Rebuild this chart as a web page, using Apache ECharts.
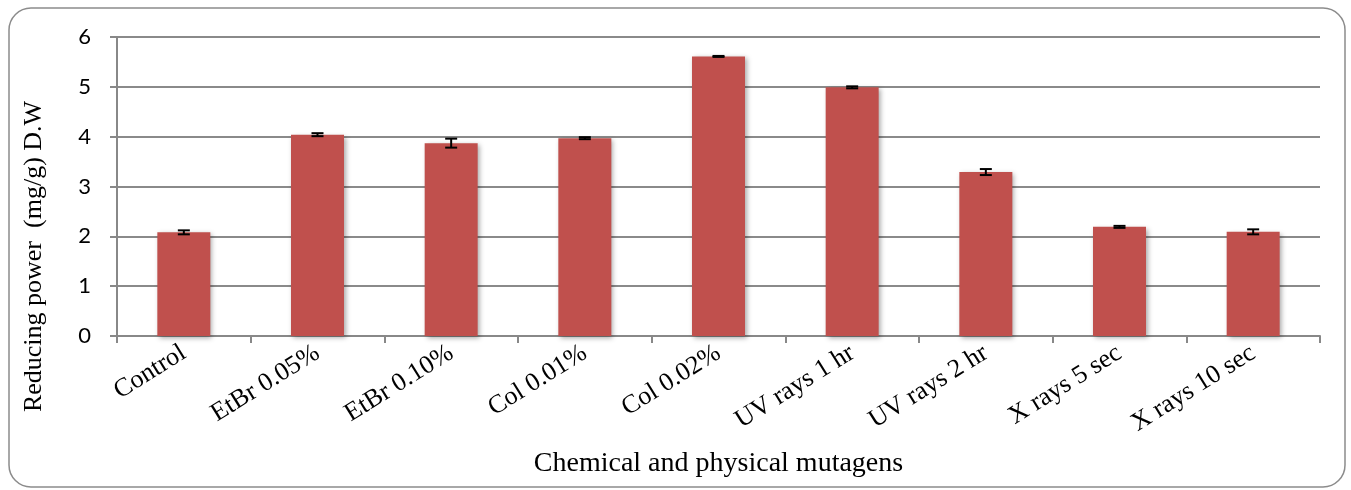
<!DOCTYPE html>
<html>
<head>
<meta charset="utf-8">
<script src="https://cdn.jsdelivr.net/npm/echarts@6/dist/echarts.min.js"></script>
<style>
  html, body { margin: 0; padding: 0; background: #fff; }
  #main { width: 1351px; height: 490px; }
</style>
</head>
<body>
<div id="main"></div>
<script>
// data
const categories = ['Control', 'EtBr 0.05%', 'EtBr 0.10%', 'Col 0.01%', 'Col 0.02%',
  'UV rays 1 hr', 'UV rays 2 hr', 'X rays 5 sec', 'X rays 10 sec']
const values = [2.08, 4.04, 3.87, 3.97, 5.61, 4.99, 3.29, 2.19, 2.09]
const errors = [0.04, 0.03, 0.09, 0.02, 0.01, 0.02, 0.06, 0.02, 0.05]
const yTicks = [0, 1, 2, 3, 4, 5, 6]

const serif = '"Liberation Serif", "DejaVu Serif", serif'
const sans = 'Lato, "Open Sans", sans-serif'
const myChart = echarts.init(document.getElementById('main'))

const errData = values.map((v, i) => [i, v - errors[i], v + errors[i]])

myChart.setOption({
  animation: false,
  textStyle: { fontFamily: serif },
  graphic: [{
    type: 'rect',
    shape: { x: 9, y: 8, width: 1336, height: 479, r: 22 },
    style: { fill: 'none', stroke: '#8c8c8c', lineWidth: 1.5 },
    z: -1
  }],
  grid: { left: 117, right: 31, top: 37, bottom: 154 },
  xAxis: {
    type: 'category',
    data: categories,
    name: 'Chemical and physical mutagens',
    nameLocation: 'middle',
    nameGap: 114,
    nameTextStyle: { fontFamily: serif, fontSize: 28, color: '#000' },
    axisLine: { lineStyle: { color: '#888', width: 2 } },
    axisTick: { show: true, length: 7, lineStyle: { color: '#888', width: 2 } },
    axisLabel: { rotate: 32, fontFamily: serif, fontSize: 26, color: '#000', margin: 15 }
  },
  yAxis: {
    type: 'value',
    min: yTicks[0],
    max: yTicks[yTicks.length - 1],
    interval: 1,
    name: 'Reducing power  (mg/g) D.W',
    nameLocation: 'middle',
    nameGap: 70,
    nameTextStyle: { fontFamily: serif, fontSize: 26, color: '#000', padding: [0, 140, 0, 0] },
    axisLine: { show: true, lineStyle: { color: '#888', width: 2 } },
    axisTick: { show: true, length: 7, lineStyle: { color: '#888', width: 2 } },
    axisLabel: { fontFamily: sans, fontSize: 22, color: '#000', margin: 26 },
    splitLine: { lineStyle: { color: '#8a8a8a', width: 2 } }
  },
  series: [{
    type: 'bar',
    data: values,
    barWidth: 53,
    itemStyle: {
      color: '#c0504d',
      shadowBlur: 5,
      shadowOffsetX: 2,
      shadowOffsetY: 2,
      shadowColor: 'rgba(0,0,0,0.35)'
    }
  }, {
    type: 'custom',
    data: errData,
    z: 10,
    renderItem: function (params, api) {
      const x = api.value(0)
      const lo = api.coord([x, api.value(1)])
      const hi = api.coord([x, api.value(2)])
      const hw = 6
      const st = { stroke: '#000', lineWidth: 2 }
      return {
        type: 'group',
        children: [
          { type: 'line', shape: { x1: lo[0], y1: lo[1], x2: hi[0], y2: hi[1] }, style: st },
          { type: 'line', shape: { x1: lo[0] - hw, y1: lo[1], x2: lo[0] + hw, y2: lo[1] }, style: st },
          { type: 'line', shape: { x1: hi[0] - hw, y1: hi[1], x2: hi[0] + hw, y2: hi[1] }, style: st }
        ]
      }
    }
  }]
})
</script>
</body>
</html>
